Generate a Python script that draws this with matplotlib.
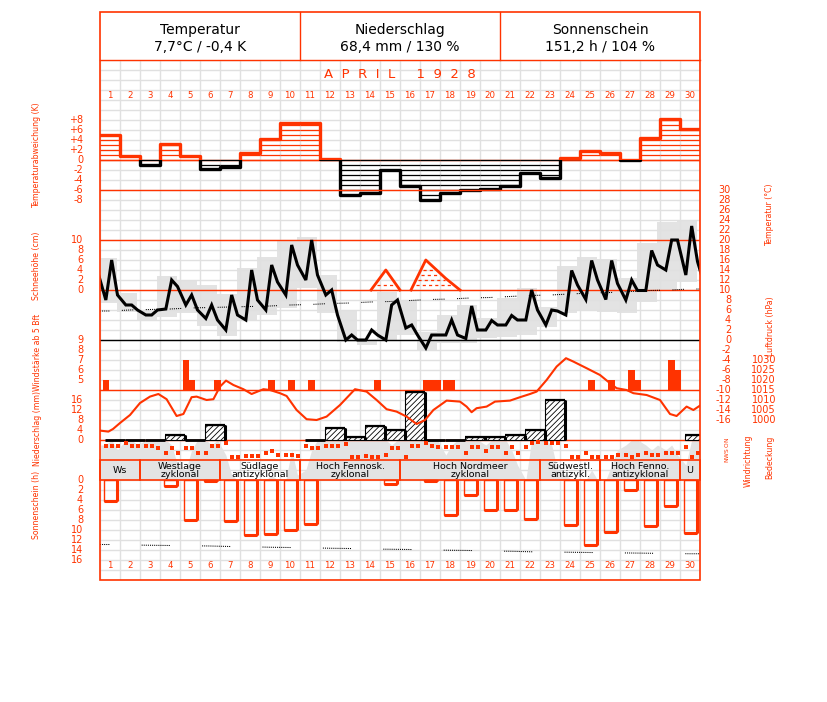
import numpy as np
import matplotlib.pyplot as plt
from matplotlib.patches import Rectangle
from matplotlib.transforms import blended_transform_factory

RED = '#ff3300'
GREY = '#e3e3e3'
GRIDC = '#e0e0e0'
plt.rcParams['font.family'] = 'DejaVu Sans'
plt.rcParams['hatch.linewidth'] = 0.6
plt.rcParams['hatch.color'] = 'black'

# ---------------- data, April 1928 ----------------
days = np.arange(1, 31)
obs_frac = np.array([7, 14, 21]) / 24.0          # observation times 7h, 14h, 21h

# daily temperature deviation (K)
temp_dev = [5.0, 0.8, -0.9, 3.3, 0.9, -1.7, -1.3, 1.5, 4.3, 7.5,
            7.5, 0.3, -6.9, -6.5, -2.0, -5.2, -8.0, -6.5, -5.9, -5.7,
            -5.1, -2.5, -3.6, 0.5, 1.8, 1.5, 0.0, 4.5, 8.2, 6.2]

# air temperature at 7h, 14h, 21h (deg C)
temp_obs = [[8, 16, 9], [7, 7, 6], [5, 5, 6], [6.2, 12, 10.7], [7, 9, 6],
            [4.3, 7, 4], [2, 9, 5], [4, 14, 8], [6, 15, 11.6], [9, 19, 15],
            [12, 20, 13], [9, 10, 5], [0, 1, 0], [0, 2, 1], [0, 7, 8],
            [2.4, 3, 1], [-1.6, 1, 1], [1, 4, 1], [0.3, 6.8, 2], [2, 3.9, 3],
            [3, 4.9, 4], [4, 10, 6], [3, 6, 5.8], [5, 13.9, 11], [8.1, 15.9, 12],
            [8.1, 15.9, 11.3], [8, 12, 9.9], [9.9, 17.9, 15], [14, 20, 20], [13, 22.8, 15.7]]
temp_prev = 13.8     # 31 March 21h
temp_next = 10.0     # 1 May 7h

temp_max = [16.4, 9.4, 6.0, 12.8, 12.0, 11.0, 9.2, 14.4, 16.6, 19.8,
            20.6, 13.0, 6.0, 0.2, 9.6, 8.0, 1.6, 5.0, 7.0, 4.4,
            8.4, 10.4, 6.6, 14.8, 16.6, 16.2, 12.4, 19.4, 23.6, 24.0]
temp_min = [7.4, 5.6, 4.0, 4.6, 5.4, 2.8, 0.8, 4.0, 5.0, 6.4,
            10.4, 5.4, -0.4, -1.0, 0.0, 1.0, -2.0, -0.6, -0.6, 0.4,
            0.6, 1.0, 2.6, 5.4, 6.0, 5.6, 5.4, 7.6, 10.0, 11.6]
temp_normal = [5.8, 6.0, 6.1, 6.2, 6.4, 6.5, 6.6, 6.7, 6.8, 7.0,
               7.1, 7.3, 7.4, 7.6, 7.7, 7.9, 8.1, 8.2, 8.4, 8.5,
               8.7, 8.9, 9.0, 9.2, 9.4, 9.5, 9.7, 9.9, 10.0, 10.2]

# snow depth (cm): one (time in days, depth) list per snow cover, plus hatch levels
snow_events = [([13.55, 14.29, 15.0], [0, 4, 0]),
               ([15.55, 16.29, 17.29, 18.0], [0, 6, 2.3, 0])]
snow_hatch = [[1], [1, 2, 3, 4]]

# wind force >= 5 Bft at 7h, 14h, 21h (0 = below 5)
wind_bft = [[5, 0, 0], [0, 0, 0], [0, 0, 0], [0, 0, 0], [7, 5, 0],
            [0, 0, 5], [0, 0, 0], [0, 0, 0], [0, 5, 0], [0, 5, 0],
            [0, 5, 0], [0, 0, 0], [0, 0, 0], [0, 0, 5], [0, 0, 0],
            [0, 0, 0], [5, 5, 5], [5, 5, 0], [0, 0, 0], [0, 0, 0],
            [0, 0, 0], [0, 0, 0], [0, 0, 0], [0, 0, 0], [0, 5, 0],
            [0, 5, 0], [0, 6, 5], [0, 0, 0], [0, 7, 6], [0, 0, 0]]

# air pressure trace (day, hPa)
pres_t = [0, 0.42, 0.65, 1.0, 1.5, 2.0, 2.5, 2.92, 3.33, 3.83, 4.17, 4.58, 4.83,
          5.33, 5.67, 6.0, 6.3, 6.67, 7.17, 7.58, 8.17, 8.5, 9.0, 9.33, 9.83,
          10.33, 10.83, 11.33, 12.0, 12.75, 13.33, 13.83, 14.33, 14.83, 15.33,
          15.83, 16.25, 16.67, 17.33, 18.0, 18.33, 18.58, 18.83, 19.33, 19.75,
          20.5, 21.0, 21.5, 21.83, 22.33, 22.83, 23.3, 23.67, 24.33, 25.0, 25.5,
          25.83, 26.33, 26.67, 27.33, 28.0, 28.5, 28.83, 29.33, 29.67, 30.0]
pres_hpa = [994.7, 994.2, 995.5, 998.5, 1002.5, 1008.5, 1011.7, 1013.0, 1010.4,
            1002.0, 1003.0, 1011.4, 1011.7, 1010.0, 1010.4, 1016.7, 1019.7, 1017.5,
            1015.4, 1013.0, 1015.4, 1015.0, 1013.4, 1012.0, 1005.0, 1000.4, 1000.0,
            1001.7, 1007.5, 1015.4, 1014.2, 1010.0, 1005.4, 1004.2, 1001.7, 998.0,
            1000.0, 1005.0, 1009.7, 1009.2, 1006.7, 1003.9, 1005.9, 1006.7, 1009.2,
            1009.7, 1011.4, 1013.0, 1014.2, 1020.0, 1026.7, 1030.9, 1029.2, 1025.9,
            1022.5, 1018.4, 1015.9, 1015.0, 1013.4, 1012.5, 1010.0, 1003.0, 1002.0,
            1006.7, 1005.0, 1007.2]

# precipitation (mm), 0 = trace, nan = none
nan = np.nan
prcp_mm = [0, 0, 0, 2, 0, 6, nan, nan, nan, nan,
           0, 4.8, 1, 5.6, 4, 19, 0, 0, 1, 1,
           2, 4, 16, nan, nan, nan, nan, nan, nan, 2]

# cloud cover (octas) at 7h, 14h, 21h
cloud = [[7, 8, 6], [8, 8, 7], [8, 8, 8], [8, 7, 3], [2, 6, 8],
         [8, 7, 8], [5, 1, 0], [0, 0, 0], [0, 1, 0], [0, 6, 1],
         [2, 6, 8], [8, 8, 8], [8, 8, 8], [8, 8, 8], [8, 7, 8],
         [8, 8, 8], [8, 8, 8], [5, 7, 8], [8, 8, 8], [7, 8, 8],
         [8, 6, 3], [0, 8, 8], [8, 7, 2], [1, 0, 0], [0, 2, 0],
         [0, 3, 6], [7, 8, 8], [7, 6, 7], [6, 7, 5], [3, 8, 8]]

# wind direction (deg) at 7h, 14h, 21h
wind_dir = [[108, 108, 108], [48, 108, 108], [108, 108, 150], [228, 144, 228], [150, 150, 228],
            [228, 108, 108], [48, 312, 312], [288, 288, 288], [228, 192, 270], [270, 270, 288],
            [108, 150, 150], [108, 108, 108], [72, 312, 312], [288, 312, 312], [270, 150, 150],
            [312, 108, 108], [48, 108, 132], [132, 132, 132], [228, 132, 132], [192, 132, 132],
            [228, 132, 228], [132, 48, 30], [48, 48, 48], [108, 312, 312], [228, 312, 312],
            [312, 312, 270], [270, 312, 270], [228, 270, 270], [228, 228, 228], [132, 312, 228]]

# sunshine duration (h) and astronomically possible sunshine (h)
sun_h = [4.2, 0, 0, 1.2, 8.0, 0.2, 8.2, 11.0, 10.8, 9.9,
         8.8, 0, 0, 0, 0.8, 0, 0.2, 7.0, 2.9, 6.0,
         5.9, 7.8, 0, 9.0, 13.0, 10.4, 1.9, 9.1, 5.2, 10.6]
sun_astro = [12.9, 13.0, 13.05, 13.1, 13.15, 13.2, 13.3, 13.35, 13.45, 13.5,
             13.55, 13.65, 13.7, 13.8, 13.85, 13.9, 14.0, 14.05, 14.1, 14.2,
             14.25, 14.35, 14.4, 14.45, 14.5, 14.55, 14.6, 14.65, 14.7, 14.75]

weather_types = [(1, 2, 'Ws'), (3, 6, 'Westlage\nzyklonal'), (7, 10, 'Südlage\nantizyklonal'),
                 (11, 15, 'Hoch Fennosk.\nzyklonal'), (16, 22, 'Hoch Nordmeer\nzyklonal'),
                 (23, 25, 'Südwestl.\nantizykl.'), (26, 29, 'Hoch Fenno.\nantizyklonal'),
                 (30, 30, 'U')]

header = [('Temperatur', '7,7°C / -0,4 K'), ('Niederschlag', '68,4 mm / 130 %'),
          ('Sonnenschein', '151,2 h / 104 %')]

# ---------------- layout ----------------
W, H = 827, 702
X0, X1, Y0, Y1 = 100, 700, 60, 580
fig = plt.figure(figsize=(W / 100, H / 100), dpi=100)

ax_px = fig.add_axes([0, 0, 1, 1], zorder=10)
ax_px.set_xlim(0, W)
ax_px.set_ylim(H, 0)
ax_px.axis('off')


def layer(ref_val, ref_px, px_per_unit, visible=False):
    ax = fig.add_axes([X0 / W, 1 - Y1 / H, (X1 - X0) / W, (Y1 - Y0) / H])
    ax.set_xlim(0, 30)
    ax.set_ylim(ref_val + (ref_px - Y1) / px_per_unit, ref_val + (ref_px - Y0) / px_per_unit)
    ax.patch.set_alpha(0)
    if not visible:
        ax.axis('off')
    return ax


def side_labels(ax, values, texts, x, ha='right', size=7, **kw):
    tr = blended_transform_factory(ax_px.transData, ax.transData)
    for v, s in zip(values, texts):
        ax_px.text(x, v, s, transform=tr, ha=ha, va='center', color=RED, fontsize=size, **kw)


t_obs = (days[:, None] - 1 + obs_frac[None, :]).ravel()

# grid + daily temperature range
ax_g = layer(0, 340, 5, visible=True)
ax_g.set_xticks(np.arange(0, 31))
ax_g.set_yticks(np.arange(-48, 57, 2))
ax_g.grid(True, color=GRIDC, lw=1)
ax_g.tick_params(length=0, labelleft=False, labelbottom=False)
for sp in ax_g.spines.values():
    sp.set_visible(False)
tmax = np.array(temp_max)
tmin = np.array(temp_min)
ax_g.bar(days - 1 - 0.15, tmax - tmin, width=1.0, bottom=tmin, align='edge',
         color=GREY, lw=0)

# cloud cover
ax_c = layer(0, 480, 5)
cl = np.array(cloud, float).ravel()
ax_c.fill_between(np.r_[0, t_obs, 30], 0, np.r_[cl[0], cl, cl[-1]], color=GREY, lw=0)

# temperature deviation
ax_d = layer(0, 160, 5)
ax_d.axhline(0, color=RED, lw=1, zorder=1)
for i, v in enumerate(temp_dev):
    col = RED if v > 0 else 'black'
    lv = np.arange(0, v, 1 if v > 0 else -1)
    ax_d.hlines(lv, i, i + 1, color=col, lw=0.9, zorder=2)
edges = np.arange(0, 31)
dev_step = np.r_[temp_dev, temp_dev[-1]]
for col, lo, hi in [(RED, 0, 40), ('black', -40, 0)]:
    ln, = ax_d.step(edges, dev_step, where='post', color=col, lw=2.4, zorder=3)
    ln.set_clip_path(Rectangle((0, lo), 30, hi - lo, transform=ax_d.transData))

# snow depth
ax_s = layer(0, 290, 5)
for (st, sv), levels in zip(snow_events, snow_hatch):
    ax_s.plot(st, sv, color=RED, lw=2)
    k = int(np.argmax(sv))
    for lv in levels:
        xl = np.interp(lv, sv[:k + 1], st[:k + 1])
        xr = np.interp(lv, sv[k:][::-1], st[k:][::-1])
        ax_s.hlines(lv, xl + 0.12, xr - 0.12, color=RED, lw=0.9, linestyles=(0, (2.5, 2.5)))

# temperature
ax_t = layer(0, 340, 5)
for v in [30, 20, 10, -10, -20]:
    ax_t.axhline(v, color=RED, lw=1)
ax_t.axhline(0, color='black', lw=1)
ax_t.plot(np.r_[0, days - 0.5, 30], np.r_[temp_normal[0], temp_normal, temp_normal[-1]],
          color='black', lw=0.75, ls=(2, (1, 1, 1, 1, 1, 1, 1, 1, 1, 1, 1, 12)))
t_line = np.r_[-0.125, t_obs, 30.29]
v_line = np.r_[temp_prev, np.array(temp_obs).ravel(), temp_next]
ax_t.plot(t_line, v_line, color='black', lw=2.2, solid_joinstyle='miter')

# wind force
ax_w = layer(4, 390, 10)
wb = np.array(wind_bft, float).ravel()
sel = wb > 0
ax_w.bar(t_obs[sel], wb[sel] - 4, width=1 / 3, bottom=4, color=RED, lw=0)

# precipitation
ax_r = layer(0, 440, 2.5)
pr = np.array(prcp_mm, float)
wet = pr > 0
left = days - 1 + 0.25
ax_r.bar(left[wet], pr[wet], width=1.0, align='edge', facecolor='white',
         edgecolor='black', hatch='//////', lw=0.8)
ax_r.vlines(left[wet] + 1, 0, pr[wet], color='black', lw=2.2)
ax_r.hlines(pr[wet], left[wet], left[wet] + 1, color='black', lw=1.6)
trace = pr == 0
ax_r.hlines(np.zeros(trace.sum()), left[trace], left[trace] + 1, color='black', lw=2)

# air pressure
ax_p = layer(1015, 390, 2)
ax_p.plot(pres_t, pres_hpa, color=RED, lw=1.5)

# wind direction
ax_wd = layer(0, 440, -20 / 360)
ax_wd.plot(t_obs, np.array(wind_dir, float).ravel(), ls='none', marker='s',
           ms=2.3, color=RED, mew=0)

# sunshine
ax_sun = layer(0, 480, -5)
sh = np.array(sun_h)
sunny = sh > 0
sl = days - 1 + 0.2
ax_sun.bar(sl[sunny], sh[sunny], width=0.63, align='edge', facecolor='none',
           edgecolor=RED, lw=1)
ax_sun.vlines(sl[sunny] + 0.63, 0, sh[sunny], color=RED, lw=2.2)
ax_sun.hlines(sh[sunny], sl[sunny], sl[sunny] + 0.63, color=RED, lw=2.2)
ax_sun.plot(np.r_[0, days - 0.5, 30], np.r_[sun_astro[0], sun_astro, sun_astro[-1]],
            color='black', lw=0.75, ls=(18, (1, 1) * 13 + (1, 31)))

# ---------------- frame and texts ----------------
trd = blended_transform_factory(ax_g.transData, ax_px.transData)
for first, last, label in weather_types:
    ax_px.add_patch(Rectangle((first - 1, 460), last - first + 1, 20, transform=trd,
                              fill=False, edgecolor=RED, lw=1.2))
    ax_px.text((first - 1 + last) / 2, 470.5, label, transform=trd, ha='center',
               va='center', fontsize=6.8, linespacing=0.95)

ax_px.add_patch(Rectangle((X0, 12), X1 - X0, Y1 - 12, fill=False, edgecolor=RED, lw=1.2))
ax_px.plot([X0, X1], [60, 60], color=RED, lw=1)
for k, (title, value) in enumerate(header):
    cx = X0 + 100 + 200 * k
    if k:
        ax_px.plot([X0 + 200 * k] * 2, [12, 60], color=RED, lw=1)
    ax_px.text(cx, 30, title, ha='center', va='center', fontsize=10)
    ax_px.text(cx, 47, value, ha='center', va='center', fontsize=10)

ax_px.text(400, 75, 'A  P  R  I  L     1  9  2  8', ha='center', va='center',
           color=RED, fontsize=9.5)
for yy in (95, 565):
    for d in days:
        ax_px.text(X0 + 20 * d - 10, yy, str(d), ha='center', va='center',
                   color=RED, fontsize=6.2)

# axis labels on the left
side_labels(ax_d, [8, 6, 4, 2, 0, -2, -4, -6, -8],
            ['+8', '+6', '+4', '+2', '0', '-2', '-4', '-6', '-8'], 83)
side_labels(ax_s, [10, 8, 6, 4, 2, 0], ['10', '8', '6', '4', '2', '0'], 83)
side_labels(ax_w, [9, 8, 7, 6, 5], ['9', '8', '7', '6', '5'], 83)
side_labels(ax_r, [16, 12, 8, 4, 0], ['16', '12', '8', '4', '0'], 83)
side_labels(ax_sun, np.arange(0, 17, 2), [str(v) for v in range(0, 17, 2)], 83)
# axis labels on the right
side_labels(ax_t, np.arange(30, -17, -2), [str(v) for v in range(30, -17, -2)], 731)
side_labels(ax_p, np.arange(1030, 999, -5), [str(v) for v in range(1030, 999, -5)], 776)
tr_wd = blended_transform_factory(ax_px.transData, ax_wd.transData)
for deg, s in zip([0, 90, 180, 270, 360], ['N', 'O', 'S', 'W', 'N']):
    ax_px.text(727, deg, s, transform=tr_wd, ha='center', va='center', rotation=90,
               color=RED, fontsize=4.2)

titles = [(37, 155, 'Temperaturabweichung (K)'), (37, 266, 'Schneehöhe (cm)'),
          (37, 352, 'Windstärke ab 5 Bft'), (37, 428, 'Niederschlag (mm)'),
          (37, 505, 'Sonnenschein (h)'), (770, 215, 'Temperatur (°C)'),
          (770, 326, 'Luftdruck (hPa)'), (748, 461, 'Windrichtung'), (770, 457, 'Bedeckung')]
for x, y, s in titles:
    ax_px.text(x, y, s, rotation=90, ha='center', va='center', color=RED,
               fontsize=6.2, fontstretch='condensed')

fig.savefig('out.png', dpi=100)
